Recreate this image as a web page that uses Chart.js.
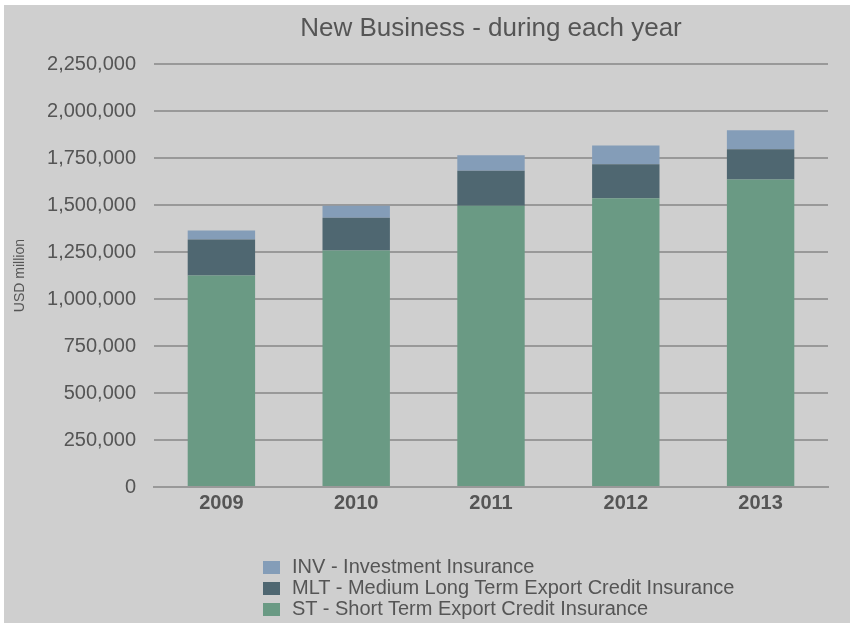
<!DOCTYPE html>
<html>
<head>
<meta charset="utf-8">
<script src="https://cdn.jsdelivr.net/npm/chart.js@4/dist/chart.umd.min.js"></script>
<style>
  body { margin: 0; background: #ffffff; font-family: "Liberation Sans", Arial, sans-serif; }
  #wrap { position: absolute; left: 4px; top: 5px; width: 846px; height: 618px; background: #cfcfcf; }
  #legend { position: absolute; left: 259px; top: 551px; color: #555555; font-size: 20px; line-height: 21px; }
  #legend div { white-space: nowrap; }
  #legend span { display: inline-block; width: 17px; height: 13px; margin-right: 12px; vertical-align: -1px; }
</style>
</head>
<body>
<div id="wrap">
  <canvas id="newBusinessChart" width="846" height="618"></canvas>
  <div id="legend"></div>
</div>
<script>
// Data (USD million)
const years = ["2009", "2010", "2011", "2012", "2013"];
const stValues = [1125000, 1258000, 1497000, 1537000, 1637000];
const mltValues = [192000, 175000, 186000, 181000, 161000];
const invValues = [48000, 64000, 82000, 100000, 100000];
const yTicks = [0, 250000, 500000, 750000, 1000000, 1250000, 1500000, 1750000, 2000000, 2250000];

const textColor = "#555555";

// Legend order in the picture: INV first, ST last
function buildLegend(chart) {
  const legend = document.getElementById("legend");
  legend.innerHTML = "";
  chart.data.datasets
    .slice()
    .reverse()
    .forEach((ds) => {
      const row = document.createElement("div");
      const box = document.createElement("span");
      box.style.background = ds.backgroundColor;
      row.appendChild(box);
      row.appendChild(document.createTextNode(ds.label));
      legend.appendChild(row);
    });
}

const ctx = document.getElementById("newBusinessChart").getContext("2d");

const chart = new Chart(ctx, {
  type: "bar",
  data: {
    labels: years,
    datasets: [
      {
        label: "ST - Short Term Export Credit Insurance",
        data: stValues,
        backgroundColor: "#6a9a84",
      },
      {
        label: "MLT - Medium Long Term Export Credit Insurance",
        data: mltValues,
        backgroundColor: "#4f6771",
      },
      {
        label: "INV - Investment Insurance",
        data: invValues,
        backgroundColor: "#849db8",
      },
    ],
  },
  options: {
    responsive: false,
    animation: false,
    layout: {
      padding: { left: 8, right: 22, bottom: 104 },
    },
    datasets: {
      bar: { barPercentage: 0.5, categoryPercentage: 1 },
    },
    scales: {
      x: {
        stacked: true,
        grid: { display: false, drawTicks: false },
        border: { color: "#999999", width: 2 },
        ticks: {
          color: textColor,
          padding: 4,
          font: { family: "Liberation Sans", size: 20, weight: "bold" },
        },
      },
      y: {
        stacked: true,
        min: 0,
        max: 2250000,
        afterBuildTicks: (scale) => {
          scale.ticks = yTicks.map((v) => ({ value: v }));
        },
        afterFit: (scale) => {
          scale.width = 142; // keeps the plot starting where the picture does
        },
        grid: { color: "#999999", lineWidth: 2, drawTicks: false },
        border: { display: false },
        ticks: {
          color: textColor,
          padding: 18,
          font: { family: "Liberation Sans", size: 20 },
          callback: (value) => value.toLocaleString("en-US"),
        },
        title: {
          display: true,
          text: "USD million",
          color: textColor,
          font: { family: "Liberation Sans", size: 14 },
          padding: { top: 0, bottom: 0 },
        },
      },
    },
    plugins: {
      legend: { display: false },
      tooltip: { enabled: false },
      title: {
        display: true,
        fullSize: false,
        text: "New Business - during each year",
        color: textColor,
        font: { family: "Liberation Sans", size: 26, weight: "normal" },
        padding: { top: 8, bottom: 20 },
      },
    },
  },
});

buildLegend(chart);
</script>
</body>
</html>
